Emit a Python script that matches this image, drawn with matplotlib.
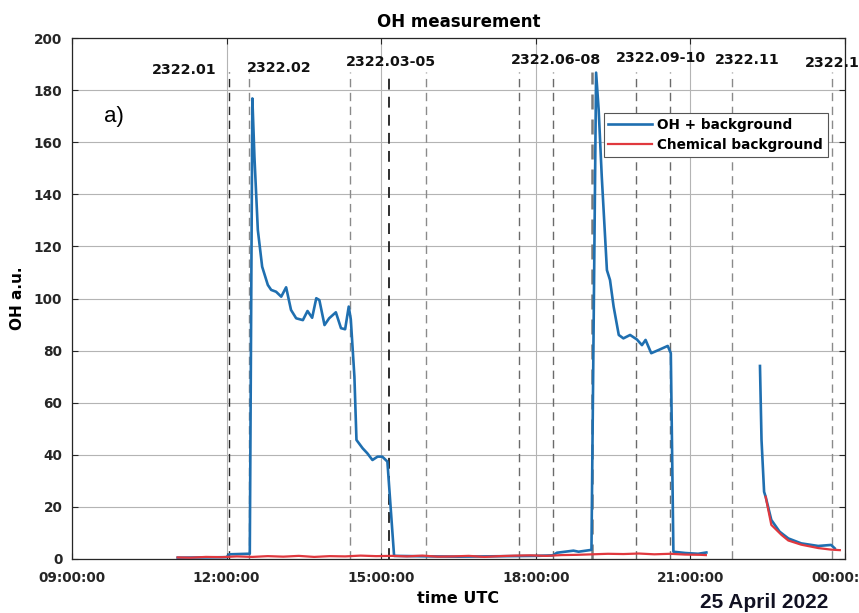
import numpy as np
import matplotlib
matplotlib.use('Agg')
import matplotlib.pyplot as plt

# время в часах UTC, значения OH (a.u.)
oh_time = [11.05, 11.5, 12.0, 12.05, 12.4, 12.45,
           12.50, 12.54, 12.606, 12.69, 12.80, 12.865, 12.96, 13.06, 13.155, 13.25,
           13.35, 13.48, 13.57, 13.66, 13.74, 13.80, 13.90, 13.99, 14.12, 14.22,
           14.30, 14.37, 14.41, 14.48, 14.52, 14.64, 14.73, 14.83, 14.93, 15.02,
           15.12, 15.25, 15.6, 16.0, 16.5, 17.0, 17.5, 18.0, 18.33, 18.41, 18.73,
           18.83, 19.08, 19.17, 19.22, 19.28, 19.38, 19.44, 19.51, 19.61, 19.70,
           19.83, 19.96, 20.06, 20.13, 20.24, 20.38, 20.56, 20.62, 20.67, 20.9,
           21.15, 21.31, np.nan,
           22.35, 22.38, 22.43, 22.46, 22.57, 22.73, 22.90, 23.15, 23.48, 23.73, 23.80]
oh_value = [0.5, 0.6, 0.7, 1.8, 2.0, 2.0,
            176.8, 154.4, 126.3, 112.2, 105.2, 103.3, 102.6, 100.7, 104.3, 95.6,
            92.4, 91.7, 95.2, 92.6, 100.1, 99.4, 89.8, 92.4, 94.7, 88.6,
            88.2, 96.9, 92.0, 70.0, 45.7, 42.5, 40.6, 38.0, 39.3, 39.3,
            37.4, 1.2, 1.1, 1.0, 0.9, 1.0, 1.1, 1.2, 1.4, 2.4, 3.2,
            2.8, 3.5, 186.7, 172.4, 146.8, 110.9, 107.1, 96.9, 86.0, 84.7,
            86.0, 84.3, 82.1, 84.1, 79.0, 80.2, 81.8, 79.0, 2.8, 2.3,
            2.0, 2.5, np.nan,
            74.1, 45.7, 25.8, 23.9, 15.0, 10.5, 7.9, 6.0, 5.0, 5.4, 4.1]

# химический фон
bg_time = [11.05, 11.3, 11.6, 11.9, 12.2, 12.5, 12.8, 13.1, 13.4, 13.7, 14.0, 14.3,
           14.6, 14.9, 15.2, 15.5, 15.8, 16.1, 16.4, 16.7, 17.0, 17.3, 17.6, 17.9,
           18.2, 18.5, 18.8, 19.1, 19.4, 19.7, 20.0, 20.3, 20.6, 20.9, 21.2, 21.3,
           np.nan,
           22.46, 22.57, 22.77, 22.90, 23.15, 23.48, 23.73, 23.90]
bg_value = [0.6, 0.5, 0.8, 0.7, 1.0, 0.8, 1.1, 0.9, 1.2, 0.8, 1.1, 1.0,
            1.3, 1.1, 1.2, 1.0, 1.3, 0.9, 1.0, 1.2, 0.8, 1.1, 1.3, 1.4,
            1.2, 1.5, 1.6, 1.8, 2.0, 1.9, 2.1, 1.8, 2.0, 1.7, 1.6, 1.5,
            np.nan,
            23.9, 13.1, 9.2, 7.1, 5.5, 4.2, 3.6, 3.4]

# границы экспериментов и подписи
exp_lines = [12.04, 12.43, 14.40, 15.15, 15.87, 17.67, 18.33, 19.10, 19.95, 20.61, 21.81, 23.75]
exp_line_top = 187
exp_names = ['2322.01', '2322.02', '2322.03-05', '2322.06-08', '2322.09-10', '2322.11', '2322.12']
exp_name_x = [10.55, 12.39, 14.32, 17.52, 19.55, 21.48, 23.22]
exp_name_y = [187.7, 188.5, 190.8, 191.6, 192.3, 191.6, 190.4]

hour_ticks = [9, 12, 15, 18, 21, 24]
hour_labels = ['09:00:00', '12:00:00', '15:00:00', '18:00:00', '21:00:00', '00:00:00']

line_colors = ['#2a2a2a', '#8a8a8a', '#8a8a8a', '#1e1e1e', '#8a8a8a', '#6a6a6a',
               '#6a6a6a', '#7a7a7a', '#6a6a6a', '#6a6a6a', '#8a8a8a', '#8a8a8a']
line_widths = [1.0, 1.0, 1.0, 1.3, 1.0, 1.0, 1.0, 1.8, 1.0, 1.0, 1.0, 1.0]

plt.rcParams['font.family'] = ['DejaVu Sans']

fig = plt.figure(figsize=(8.59, 6.13), dpi=100)
ax = fig.add_axes([72/859, 54/613, 773/859, 521/613])

ax.set_axisbelow(True)
ax.grid(True, color='#b4b4b4', linewidth=0.8)

for xv, c, w in zip(exp_lines, line_colors, line_widths):
    ax.plot([xv, xv], [0, exp_line_top], color=c, linestyle=(0, (6, 4)), linewidth=w, zorder=1.5)

ax.plot(oh_time, oh_value, color='#1f6fb0', linewidth=1.9, label='OH + background', zorder=3)
ax.plot(bg_time, bg_value, color='#e0383e', linewidth=1.6, label='Chemical background', zorder=4)

for name, xx, yy in zip(exp_names, exp_name_x, exp_name_y):
    ax.text(xx, yy, name, fontsize=10.3, fontweight='bold', ha='left', va='center',
            color='#111111', clip_on=False, zorder=5)

ax.text(9.62, 170, 'a)', fontsize=16, family='Liberation Sans', ha='left', va='center')

ax.set_xlim(9, 23.96)
ax.set_ylim(0, 200)
ax.set_xticks(hour_ticks)
ax.set_xticklabels(hour_labels)
ax.set_yticks(np.arange(0, 201, 20))
ax.tick_params(direction='in', length=4, top=True, right=True, labelsize=9.8,
               labelcolor='#262626', color='#262626')
ax.tick_params(axis='x', pad=9)
ax.tick_params(axis='y', pad=7)
for lab in ax.get_xticklabels() + ax.get_yticklabels():
    lab.set_fontweight('bold')
for sp in ax.spines.values():
    sp.set_color('#262626')
    sp.set_linewidth(0.9)

ax.set_title('OH measurement', fontsize=12, fontweight='bold', pad=8)
ax.set_xlabel('time UTC', fontsize=11.5, fontweight='bold', labelpad=4)
ax.set_ylabel('OH a.u.', fontsize=11, fontweight='bold', labelpad=6)

fig.text(700/859, 1 - 602/613, '25 April 2022', fontsize=15, fontweight='bold',
         family='Liberation Sans', color='#111122', ha='left', va='center')

leg = ax.legend(loc='upper right', bbox_to_anchor=(0.978, 0.856), borderaxespad=0,
                fancybox=False, framealpha=1, edgecolor='#555555',
                prop={'size': 9.8, 'weight': 'bold'}, handlelength=3.2,
                handletextpad=0.4, borderpad=0.35, labelspacing=0.45)
leg.get_frame().set_linewidth(0.8)

fig.savefig('out.png', dpi=100)
